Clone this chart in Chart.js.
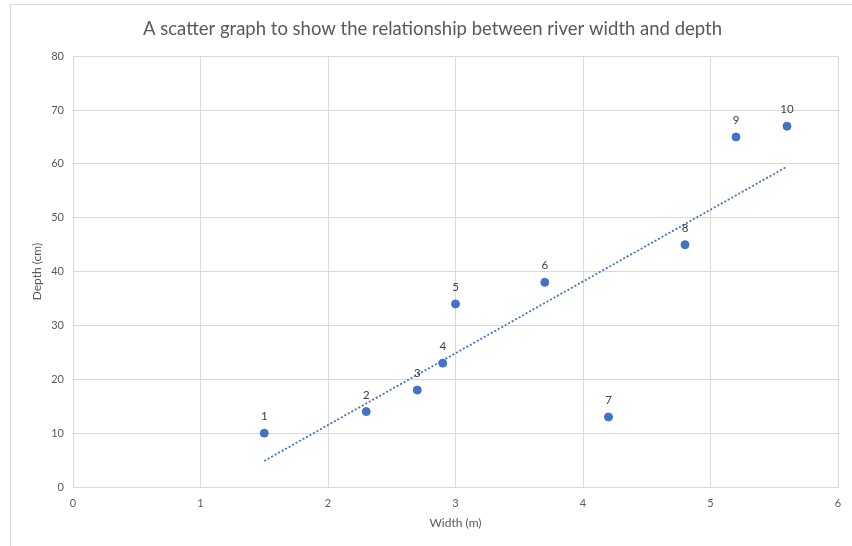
<!DOCTYPE html>
<html>
<head>
<meta charset="utf-8">
<script src="https://cdn.jsdelivr.net/npm/chart.js@4"></script>
<style>
  html, body { margin: 0; padding: 0; background: #fff; overflow: hidden; }
  #frame { position: absolute; left: 10px; top: 4px; width: 900px; height: 600px; border: 1px solid #d9d9d9; }
  #chart { position: absolute; left: 0; top: 0; }
</style>
</head>
<body>
<div id="frame"></div>
<canvas id="chart" width="852" height="546"></canvas>
<script>
// =======================
// DATA
// =======================
const siteLabels = ['1', '2', '3', '4', '5', '6', '7', '8', '9', '10'];
const widths = [1.5, 2.3, 2.7, 2.9, 3.0, 3.7, 4.2, 4.8, 5.2, 5.6];
const depths = [10, 14, 18, 23, 34, 38, 13, 45, 65, 67];

const chartTitle = 'A scatter graph to show the relationship between river width and depth';
const xTitle = 'Width (m)';
const yTitle = 'Depth (cm)';

const blue = '#4472c4';
const grey = '#595959';
const gridGrey = '#d9d9d9';
const fontFamily = 'Lato, "Open Sans", sans-serif';

// linear trendline (least squares) over the data
function trend() {
    let n = widths.length;
    let mx = widths.reduce((a, b) => a + b, 0) / n;
    let my = depths.reduce((a, b) => a + b, 0) / n;
    let sxy = 0, sxx = 0;
    for (let i = 0; i < n; i++) {
        sxy += (widths[i] - mx) * (depths[i] - my);
        sxx += (widths[i] - mx) * (widths[i] - mx);
    }
    let m = sxy / sxx;
    let c = my - m * mx;
    let x0 = Math.min(...widths), x1 = Math.max(...widths);
    return [{ x: x0, y: m * x0 + c }, { x: x1, y: m * x1 + c }];
}

// point number labels above each marker
const pointLabels = {
    id: 'pointLabels',
    afterDatasetsDraw(chart) {
        let ctx = chart.ctx;
        let meta = chart.getDatasetMeta(0);
        ctx.save();
        ctx.fillStyle = '#404040';
        ctx.font = '11.5px ' + fontFamily;
        ctx.textAlign = 'center';
        ctx.textBaseline = 'bottom';
        meta.data.forEach((pt, i) => {
            ctx.fillText(siteLabels[i], pt.x, pt.y - 11);
        });
        ctx.restore();
    }
};

let ctx = document.getElementById('chart').getContext('2d');

new Chart(ctx, {
    type: 'scatter',
    data: {
        datasets: [{
            label: 'Depth',
            data: widths.map((w, i) => ({ x: w, y: depths[i] })),
            backgroundColor: blue,
            borderColor: blue,
            pointRadius: 4,
            pointHoverRadius: 4,
            order: 1
        }, {
            label: 'Trend',
            type: 'line',
            data: trend(),
            borderColor: blue,
            borderWidth: 1.8,
            borderDash: [2, 2],
            pointRadius: 0,
            fill: false,
            order: 2
        }]
    },
    options: {
        responsive: false,
        animation: false,
        devicePixelRatio: 1,
        layout: { padding: { left: 27, right: 14, top: 0, bottom: 0 } },
        plugins: {
            legend: { display: false },
            tooltip: { enabled: false },
            title: {
                display: true,
                text: chartTitle,
                color: grey,
                font: { family: fontFamily, size: 18.5, weight: 'normal' },
                padding: { top: 18, bottom: 16 }
            }
        },
        scales: {
            x: {
                type: 'linear',
                min: 0,
                max: 6,
                ticks: {
                    stepSize: 1,
                    color: grey,
                    padding: 10,
                    font: { family: fontFamily, size: 11 }
                },
                grid: { color: gridGrey, drawTicks: false },
                border: { color: gridGrey },
                title: {
                    display: true,
                    text: xTitle,
                    color: grey,
                    font: { family: fontFamily, size: 12 },
                    padding: { top: 6, bottom: 16 }
                },
                afterFit(scale) { scale.height = 59; }
            },
            y: {
                min: 0,
                max: 80,
                ticks: {
                    stepSize: 10,
                    color: grey,
                    padding: 9,
                    font: { family: fontFamily, size: 11 }
                },
                grid: { color: gridGrey, drawTicks: false },
                border: { display: false },
                title: {
                    display: true,
                    text: yTitle,
                    color: grey,
                    font: { family: fontFamily, size: 12 },
                    padding: { top: 3, bottom: 4 }
                },
                afterFit(scale) { scale.width = 46; }
            }
        }
    },
    plugins: [pointLabels]
});
</script>
</body>
</html>
